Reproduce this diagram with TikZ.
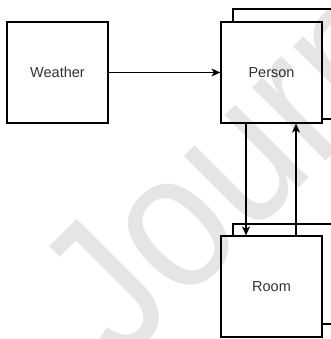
\documentclass[tikz,border=0pt]{standalone}
\usepackage{fontspec}
\setmainfont{Liberation Sans}
\usetikzlibrary{arrows.meta}
\definecolor{labelgray}{HTML}{333333}
\tikzset{
  block/.style={draw=black, line width=1.2bp, fill=white, minimum width=101bp,
    minimum height=101bp, inner sep=0pt,
    font=\fontsize{14.5bp}{17bp}\selectfont, text=labelgray},
  backblock/.style={draw=black, line width=1.2bp, fill=white, inner sep=0pt},
  link/.style={line width=1.2bp, -{Stealth[length=9bp,width=8bp,inset=2.5bp]}},
  watermark/.style={rotate=45, xscale=0.88, anchor=base west, inner sep=0pt,
    text=black, text opacity=0.1, font=\fontsize{196bp}{196bp}\selectfont}
}
\begin{document}
\begin{tikzpicture}[x=1bp,y=-1bp]
  \useasboundingbox (0,0) rectangle (331,339);
  \clip (0,0) rectangle (331,339);
  \fill[white] (0,0) rectangle (331,339);

  % stacked frames behind the person and room blocks
  \node[backblock, minimum width=112bp, minimum height=110bp] (personback) at (289,64) {};
  \node[backblock, minimum width=112bp, minimum height=100bp] (roomback) at (289,274) {};

  % main blocks
  \node[block] (weather) at (57.5,72.5) {Weather};
  \node[block] (person) at (271.5,72.5) {Person};
  \node[block] (room) at (271.5,286.5) {Room};

  % connectors
  \draw[link] (weather.east) -- (person.west);
  \draw[link] ([xshift=-25.5bp]person.south) -- ([xshift=-25.5bp]room.north);
  \draw[link] ([xshift=24.5bp]room.north) -- ([xshift=24.5bp]person.south);

  % faint diagonal lettering laid over everything
  \node[watermark] (mark) at (120.75,366.15) {Journal};
\end{tikzpicture}
\end{document}
